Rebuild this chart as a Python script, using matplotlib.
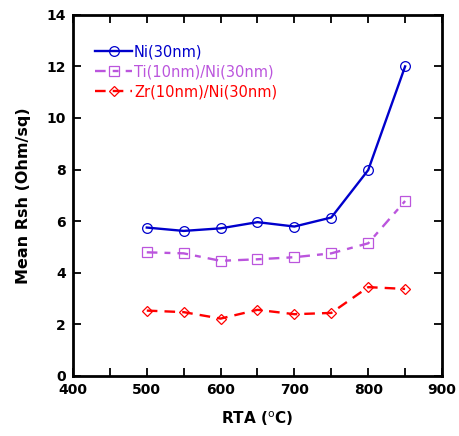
import matplotlib
matplotlib.use('Agg')
import matplotlib.pyplot as plt
import numpy as np

plt.rcParams['font.family'] = ['DejaVu Sans']

# data
rta = [500, 550, 600, 650, 700, 750, 800, 850]
ni = [5.75, 5.62, 5.72, 5.96, 5.79, 6.14, 7.98, 12.0]
ti_ni = [4.79, 4.75, 4.46, 4.52, 4.60, 4.75, 5.14, 6.78]
zr_ni = [2.53, 2.47, 2.22, 2.56, 2.39, 2.44, 3.44, 3.37]

fig = plt.figure(figsize=(4.59, 4.36), dpi=100)
ax = fig.add_axes([0.159, 0.138, 0.804, 0.828])

ax.plot(rta, ni, color='#0000CC', lw=1.7, marker='o', ms=7, mfc='none',
        mec='#0000CC', mew=0.9, label='Ni(30nm)')
ax.plot(rta, ti_ni, color='#BB55DD', lw=1.7, ls=(0, (4.5, 3, 2.5, 3)), marker='s',
        ms=7, mfc='none', mec='#BB55DD', mew=0.9, label='Ti(10nm)/Ni(30nm)')
ax.plot(rta, zr_ni, color='#FF0000', lw=1.7, ls=(0, (4.5, 3)), marker='D', ms=5.5,
        mfc='none', mec='#FF0000', mew=0.9, label='Zr(10nm)/Ni(30nm)')

ax.set_xlim(400, 900)
ax.set_ylim(0, 14)
ax.set_xticks(np.arange(400, 901, 100))
ax.set_xticks(np.arange(450, 900, 100), minor=True)
ax.set_yticks(np.arange(0, 15, 2))
ax.tick_params(which='both', direction='in', top=True, right=True, width=1.3,
               length=6, labelsize=10, pad=5)
for lab in ax.get_xticklabels() + ax.get_yticklabels():
    lab.set_fontweight('bold')
for s in ax.spines.values():
    s.set_linewidth(2.0)

ax.set_xlabel('RTA ($^{\\rm o}$C)', fontsize=11, fontweight='bold', labelpad=9)
ax.set_ylabel('Mean Rsh (Ohm/sq)', fontsize=11.5, fontweight='bold', labelpad=11)

leg = ax.legend(loc='upper left', bbox_to_anchor=(0.045, 0.935), frameon=False,
                fontsize=10.5, handlelength=2.5, handletextpad=0.15,
                labelspacing=0.35, borderaxespad=0)
for t, c in zip(leg.get_texts(), ['#0000CC', '#BB55DD', '#FF0000']):
    t.set_color(c)

fig.savefig('out.png', dpi=100)
